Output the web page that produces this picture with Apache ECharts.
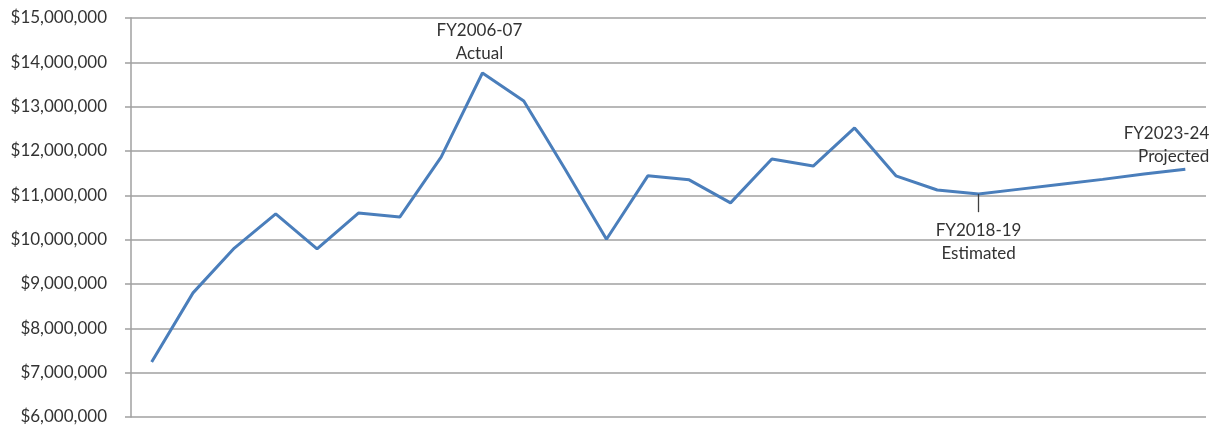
<!DOCTYPE html>
<html>
<head>
<meta charset="utf-8">
<script src="https://cdn.jsdelivr.net/npm/echarts@6/dist/echarts.min.js"></script>
<style>
  html, body { margin: 0; padding: 0; background: #ffffff; }
  #chart { width: 1221px; height: 427px; }
</style>
</head>
<body>
<div id="chart"></div>
<script>
// Fiscal years shown along the (unlabelled) category axis
const years = [
  'FY1998-99', 'FY1999-00', 'FY2000-01', 'FY2001-02', 'FY2002-03', 'FY2003-04',
  'FY2004-05', 'FY2005-06', 'FY2006-07', 'FY2007-08', 'FY2008-09', 'FY2009-10',
  'FY2010-11', 'FY2011-12', 'FY2012-13', 'FY2013-14', 'FY2014-15', 'FY2015-16',
  'FY2016-17', 'FY2017-18', 'FY2018-19', 'FY2019-20', 'FY2020-21', 'FY2021-22',
  'FY2022-23', 'FY2023-24'
];

// Annual amounts in dollars
const amounts = [
  7240000, 8800000, 9810000, 10580000, 9790000, 10600000,
  10510000, 11860000, 13760000, 13130000, 11590000, 10010000,
  11440000, 11350000, 10830000, 11820000, 11660000, 12520000,
  11440000, 11120000, 11030000, 11140000, 11250000, 11360000,
  11480000, 11590000
];

// Callouts attached to individual years
const callouts = {
  'FY2006-07': 'FY2006-07\nActual',
  'FY2018-19': 'FY2018-19\nEstimated',
  'FY2023-24': 'FY2023-24\nProjected'
};

// Lower end of the short leader line under the estimate callout
const estimateLeaderEnd = 10620000;

const textColor = '#333333';
const fontFamily = 'Lato, "Open Sans", sans-serif';

const seriesData = amounts.map((v, i) => {
  const y = years[i];
  if (!callouts[y]) return v;
  const item = { value: v, label: { show: true, formatter: callouts[y] } };
  if (y === 'FY2006-07') {
    item.label.position = 'top';
    item.label.distance = 7;
    item.label.offset = [-3, 0];
  } else if (y === 'FY2018-19') {
    item.label.position = 'bottom';
    item.label.distance = 25;
  } else {
    item.label.position = 'top';
    item.label.align = 'right';
    item.label.offset = [24, 0];
    item.label.distance = 1;
  }
  return item;
});

const chart = echarts.init(document.getElementById('chart'), null, { renderer: 'canvas' });

chart.setOption({
  animation: false,
  backgroundColor: '#ffffff',
  grid: { left: 131, right: 15, top: 18, bottom: 10, containLabel: false },
  xAxis: {
    type: 'category',
    data: years,
    boundaryGap: true,
    axisLine: { show: false },
    axisTick: { show: false },
    axisLabel: { show: false },
    splitLine: { show: false }
  },
  yAxis: {
    type: 'value',
    min: 6000000,
    max: 15000000,
    interval: 1000000,
    axisLine: { show: true, lineStyle: { color: '#a0a0a0', width: 1.5 } },
    axisTick: { show: true, length: 6, lineStyle: { color: '#a0a0a0', width: 1.5 } },
    splitLine: { show: true, lineStyle: { color: '#a0a0a0', width: 1.5 } },
    axisLabel: {
      color: textColor,
      fontFamily: fontFamily,
      fontSize: 17,
      margin: 24,
      formatter: v => '$' + v.toLocaleString('en-US')
    }
  },
  series: [{
    type: 'line',
    data: seriesData,
    symbol: 'circle',
    symbolSize: 1,
    showSymbol: true,
    itemStyle: { color: 'rgba(74,126,187,0)', borderWidth: 0 },
    smooth: false,
    lineStyle: { color: '#4a7ebb', width: 3 },
    label: {
      color: textColor,
      fontFamily: fontFamily,
      fontSize: 17,
      lineHeight: 23
    },
    markLine: {
      silent: true,
      symbol: 'none',
      label: { show: false },
      lineStyle: { color: '#404040', width: 1.3, type: 'solid' },
      data: [[
        { coord: ['FY2018-19', amounts[years.indexOf('FY2018-19')]] },
        { coord: ['FY2018-19', estimateLeaderEnd] }
      ]]
    }
  }]
});
</script>
</body>
</html>
